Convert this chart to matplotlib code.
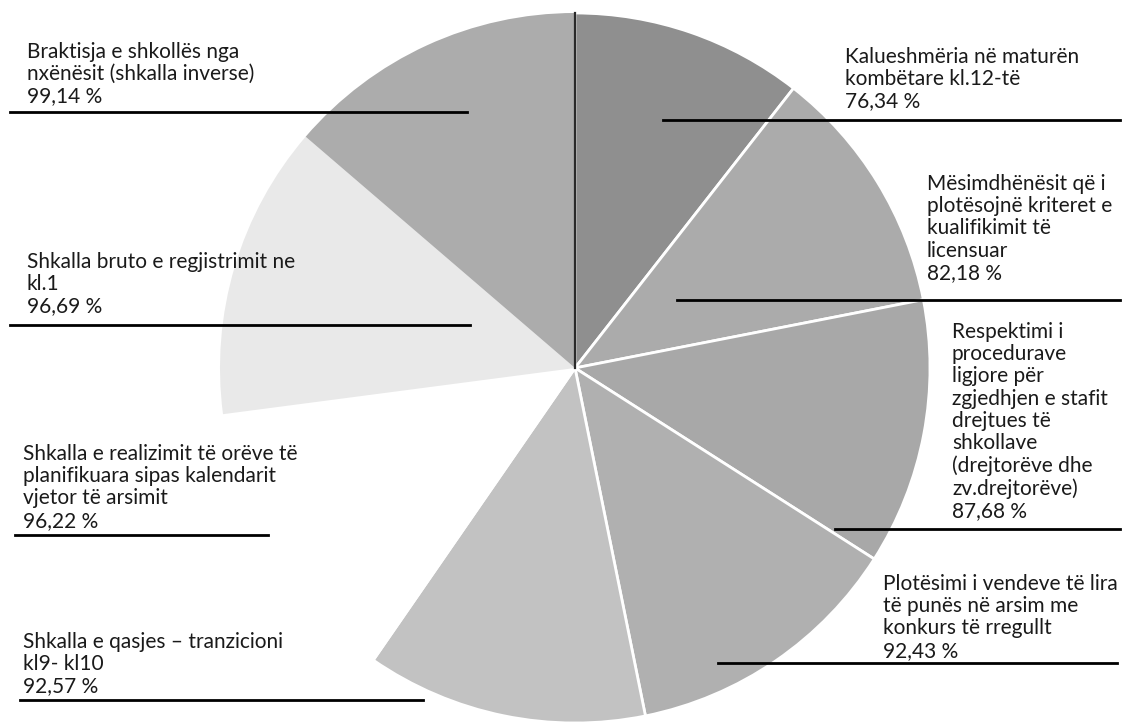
import matplotlib
matplotlib.use("Agg")
import matplotlib.pyplot as plt

# indicator values (%), clockwise from 12 o'clock
labels = [
    "Kalueshmëria në maturën\nkombëtare kl.12-të",
    "Mësimdhënësit që i\nplotësojnë kriteret e\nkualifikimit të\nlicensuar",
    "Respektimi i\nprocedurave\nligjore për\nzgjedhjen e stafit\ndrejtues të\nshkollave\n(drejtorëve dhe\nzv.drejtorëve)",
    "Plotësimi i vendeve të lira\ntë punës në arsim me\nkonkurs të rregullt",
    "Shkalla e qasjes – tranzicioni\nkl9- kl10",
    "Shkalla e realizimit të orëve të\nplanifikuara sipas kalendarit\nvjetor të arsimit",
    "Shkalla bruto e regjistrimit ne\nkl.1",
    "Braktisja e shkollës nga\nnxënësit (shkalla inverse)",
]
values = [76.34, 82.18, 87.68, 92.43, 92.57, 96.22, 96.69, 99.14]
value_text = ["76,34 %", "82,18 %", "87,68 %", "92,43 %", "92,57 %", "96,22 %", "96,69 %", "99,14 %"]
colors = ["#8f8f8f", "#ababab", "#a8a8a8", "#b0b0b0", "#c2c2c2", "#ffffff", "#e9e9e9", "#acacac"]

# label layout in pixels (top-left origin): text x, first line y, underline y, underline x0, x1
label_pos = [
    (845, 58, 120, 663, 1120),
    (927, 185, 300, 677, 1120),
    (952, 333, 529, 835, 1120),
    (883, 585, 663, 718, 1117),
    (23, 643, 700, 20, 423),
    (23, 455, 535, 15, 268),
    (27, 263, 325, 10, 470),
    (27, 53, 112, 10, 467),
]

W, H = 1122, 724
CX, CY, R = 575, 368, 355

plt.rcParams['font.family'] = ['Lato', 'DejaVu Sans']

fig = plt.figure(figsize=(W / 100, H / 100), dpi=100)
ax = fig.add_axes([0, 0, 1, 1])

wedges, _ = ax.pie(values, colors=colors, startangle=90, counterclock=False,
                   radius=R, center=(CX, H - CY),
                   wedgeprops=dict(edgecolor='white', linewidth=2))
wedges[6].set_linewidth(0)
wedges[7].set_linewidth(0)
# dark seam on the 12 o'clock edge
ax.plot([CX, CX], [H - CY, H - CY + R], color='#2a2a2a', lw=1.6)

for lab, val, (tx, ty, ly, x0, x1) in zip(labels, value_text, label_pos):
    ax.text(tx, H - ty + 11, lab + "\n" + val, ha='left', va='top',
            fontsize=15, linespacing=1.14, color='#1a1a1a')
    ax.plot([x0, x1], [H - ly, H - ly], color='black', lw=2)

ax.set_xlim(0, W)
ax.set_ylim(0, H)
ax.set_aspect('equal')
ax.axis('off')

fig.savefig("out.png", dpi=100)
